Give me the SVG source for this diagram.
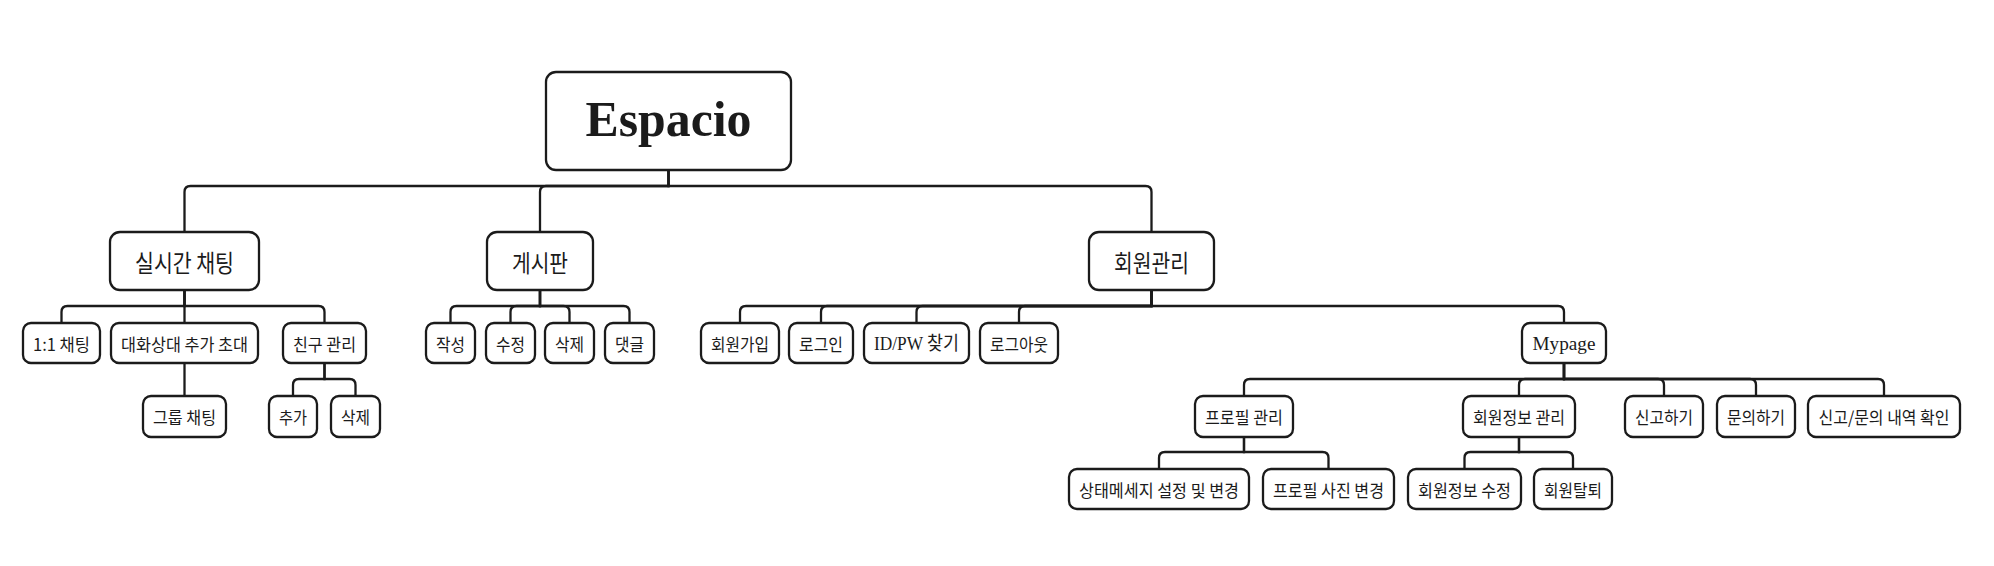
<svg xmlns="http://www.w3.org/2000/svg" width="1994" height="566" viewBox="0 0 1994 566">
<style>
.n rect{fill:#fff;stroke:#1b1b1b;stroke-width:2.3}
.n text{font-family:"Noto Sans CJK KR","Noto Sans",sans-serif;font-size:17px;fill:#1b1b1b;text-anchor:middle;dominant-baseline:central}
.n text.l1{font-size:24px}
.n text.sf{font-family:"Liberation Serif","Noto Sans CJK KR",serif;font-size:19px}
.n text.root{font-family:"Liberation Serif",serif;font-weight:bold;font-size:51px;dominant-baseline:alphabetic}
#connectors path{fill:none;stroke:#1b1b1b;stroke-width:2.3}
</style>
<rect width="1994" height="566" fill="#fff"/>
<g id="connectors">
<path d="M668.5 170V186H190.5Q184.5 186 184.5 192V232"/>
<path d="M668.5 170V186H546Q540 186 540 192V232"/>
<path d="M668.5 170V186H1145.5Q1151.5 186 1151.5 192V232"/>
<path d="M184.5 290V306H67.5Q61.5 306 61.5 312V323"/>
<path d="M184.5 290V323"/>
<path d="M184.5 290V306H318.5Q324.5 306 324.5 312V323"/>
<path d="M540 290V306H456.5Q450.5 306 450.5 312V323"/>
<path d="M540 290V306H516.5Q510.5 306 510.5 312V323"/>
<path d="M540 290V306H563.5Q569.5 306 569.5 312V323"/>
<path d="M540 290V306H623.5Q629.5 306 629.5 312V323"/>
<path d="M1151.5 290V306H746Q740 306 740 312V323"/>
<path d="M1151.5 290V306H827Q821 306 821 312V323"/>
<path d="M1151.5 290V306H922.5Q916.5 306 916.5 312V323"/>
<path d="M1151.5 290V306H1025Q1019 306 1019 312V323"/>
<path d="M1151.5 290V306H1558Q1564 306 1564 312V323"/>
<path d="M184.5 363V396"/>
<path d="M324.5 363V379H299Q293 379 293 385V396"/>
<path d="M324.5 363V379H349.5Q355.5 379 355.5 385V396"/>
<path d="M1564 363V379H1250Q1244 379 1244 385V396"/>
<path d="M1564 363V379H1525Q1519 379 1519 385V396"/>
<path d="M1564 363V379H1658Q1664 379 1664 385V396"/>
<path d="M1564 363V379H1750Q1756 379 1756 385V396"/>
<path d="M1564 363V379H1878Q1884 379 1884 385V396"/>
<path d="M1244 437V452H1165Q1159 452 1159 458V469"/>
<path d="M1244 437V452H1322.5Q1328.5 452 1328.5 458V469"/>
<path d="M1519 437V452H1470.5Q1464.5 452 1464.5 458V469"/>
<path d="M1519 437V452H1567Q1573 452 1573 458V469"/>
</g>
<g id="root" class="n"><rect x="546" y="72" width="245" height="98" rx="10"/><text class="root" x="668.5" y="136" textLength="166" lengthAdjust="spacingAndGlyphs">Espacio</text></g>
<g id="chat" class="n"><rect x="110" y="232" width="149" height="58" rx="10"/><text class="l1" x="184.5" y="261" textLength="99" lengthAdjust="spacingAndGlyphs">실시간 채팅</text></g>
<g id="board" class="n"><rect x="487" y="232" width="106" height="58" rx="10"/><text class="l1" x="540" y="261" textLength="56" lengthAdjust="spacingAndGlyphs">게시판</text></g>
<g id="member" class="n"><rect x="1089" y="232" width="125" height="58" rx="10"/><text class="l1" x="1151.5" y="261" textLength="75" lengthAdjust="spacingAndGlyphs">회원관리</text></g>
<g id="chat11" class="n"><rect x="23" y="323" width="77" height="40" rx="8"/><text x="61.5" y="343" textLength="57" lengthAdjust="spacingAndGlyphs">1:1 채팅</text></g>
<g id="invite" class="n"><rect x="111" y="323" width="147" height="40" rx="8"/><text x="184.5" y="343" textLength="127" lengthAdjust="spacingAndGlyphs">대화상대 추가 초대</text></g>
<g id="friends" class="n"><rect x="283" y="323" width="83" height="40" rx="8"/><text x="324.5" y="343" textLength="63" lengthAdjust="spacingAndGlyphs">친구 관리</text></g>
<g id="write" class="n"><rect x="426" y="323" width="49" height="40" rx="8"/><text x="450.5" y="343" textLength="29" lengthAdjust="spacingAndGlyphs">작성</text></g>
<g id="edit" class="n"><rect x="486" y="323" width="49" height="40" rx="8"/><text x="510.5" y="343" textLength="29" lengthAdjust="spacingAndGlyphs">수정</text></g>
<g id="del" class="n"><rect x="545" y="323" width="49" height="40" rx="8"/><text x="569.5" y="343" textLength="29" lengthAdjust="spacingAndGlyphs">삭제</text></g>
<g id="comment" class="n"><rect x="605" y="323" width="49" height="40" rx="8"/><text x="629.5" y="343" textLength="29" lengthAdjust="spacingAndGlyphs">댓글</text></g>
<g id="signup" class="n"><rect x="701" y="323" width="78" height="40" rx="8"/><text x="740" y="343" textLength="58" lengthAdjust="spacingAndGlyphs">회원가입</text></g>
<g id="login" class="n"><rect x="789" y="323" width="64" height="40" rx="8"/><text x="821" y="343" textLength="44" lengthAdjust="spacingAndGlyphs">로그인</text></g>
<g id="findid" class="n"><rect x="864" y="323" width="105" height="40" rx="8"/><text class="sf" x="916.5" y="343" textLength="85" lengthAdjust="spacingAndGlyphs">ID/PW 찾기</text></g>
<g id="logout" class="n"><rect x="980" y="323" width="78" height="40" rx="8"/><text x="1019" y="343" textLength="58" lengthAdjust="spacingAndGlyphs">로그아웃</text></g>
<g id="mypage" class="n"><rect x="1522" y="323" width="84" height="40" rx="8"/><text class="sf" x="1564" y="343" textLength="63" lengthAdjust="spacingAndGlyphs">Mypage</text></g>
<g id="groupchat" class="n"><rect x="143" y="396" width="83" height="41" rx="8"/><text x="184.5" y="416.5" textLength="63" lengthAdjust="spacingAndGlyphs">그룹 채팅</text></g>
<g id="fadd" class="n"><rect x="269" y="396" width="48" height="41" rx="8"/><text x="293" y="416.5" textLength="28" lengthAdjust="spacingAndGlyphs">추가</text></g>
<g id="fdel" class="n"><rect x="331" y="396" width="49" height="41" rx="8"/><text x="355.5" y="416.5" textLength="29" lengthAdjust="spacingAndGlyphs">삭제</text></g>
<g id="profile" class="n"><rect x="1195" y="396" width="98" height="41" rx="8"/><text x="1244" y="416.5" textLength="78" lengthAdjust="spacingAndGlyphs">프로필 관리</text></g>
<g id="info" class="n"><rect x="1463" y="396" width="112" height="41" rx="8"/><text x="1519" y="416.5" textLength="92" lengthAdjust="spacingAndGlyphs">회원정보 관리</text></g>
<g id="report" class="n"><rect x="1625" y="396" width="78" height="41" rx="8"/><text x="1664" y="416.5" textLength="58" lengthAdjust="spacingAndGlyphs">신고하기</text></g>
<g id="inquiry" class="n"><rect x="1717" y="396" width="78" height="41" rx="8"/><text x="1756" y="416.5" textLength="58" lengthAdjust="spacingAndGlyphs">문의하기</text></g>
<g id="history" class="n"><rect x="1808" y="396" width="152" height="41" rx="8"/><text x="1884" y="416.5" textLength="131" lengthAdjust="spacingAndGlyphs">신고/문의 내역 확인</text></g>
<g id="status" class="n"><rect x="1069" y="469" width="180" height="40" rx="8"/><text x="1159" y="489" textLength="160" lengthAdjust="spacingAndGlyphs">상태메세지 설정 및 변경</text></g>
<g id="photo" class="n"><rect x="1263" y="469" width="131" height="40" rx="8"/><text x="1328.5" y="489" textLength="111" lengthAdjust="spacingAndGlyphs">프로필 사진 변경</text></g>
<g id="infoedit" class="n"><rect x="1408" y="469" width="113" height="40" rx="8"/><text x="1464.5" y="489" textLength="93" lengthAdjust="spacingAndGlyphs">회원정보 수정</text></g>
<g id="withdraw" class="n"><rect x="1534" y="469" width="78" height="40" rx="8"/><text x="1573" y="489" textLength="58" lengthAdjust="spacingAndGlyphs">회원탈퇴</text></g>
</svg>
